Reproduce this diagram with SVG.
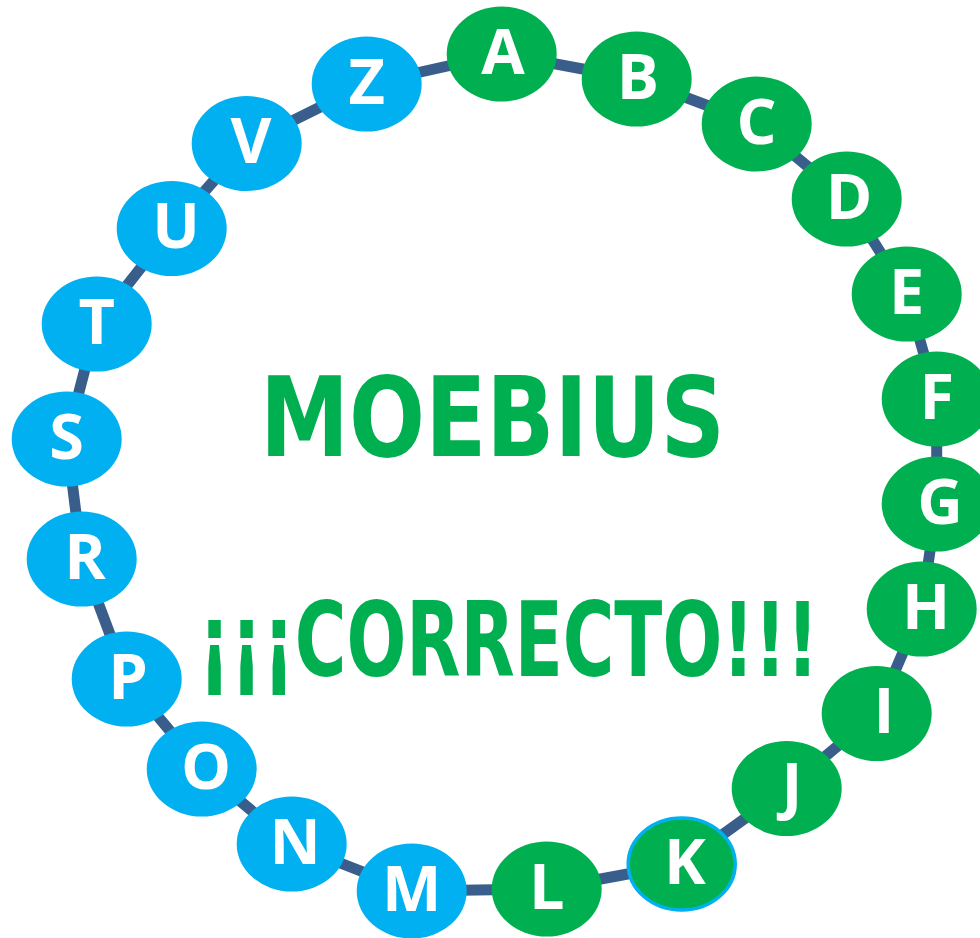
<svg xmlns="http://www.w3.org/2000/svg" width="980" height="938" viewBox="0 0 980 938">
<style>
.g{fill:#00B050}
.b{fill:#00B0F0}
.lt{font-family:"Open Sans","Noto Sans","Liberation Sans",sans-serif;font-weight:700;font-size:63px;fill:#fff;text-anchor:middle}
.title{font-family:"DejaVu Sans","Liberation Sans",sans-serif;font-weight:700;fill:#00B050;text-anchor:middle}
</style>
<rect width="980" height="938" fill="#fff"/>
<g id="connectors">
<path d="M501.7,54 L636.7,79 L756.7,124 L846.7,199 L906.7,294 L936.7,399 L936.7,504 L921.7,609 L876.7,713.5 L786.7,788.5 L681.7,864 L546.7,889 L411.7,891 L291.7,844 L201.7,769 L126.7,679 L81.7,559 L66.7,439 L96.7,324 L171.7,228.5 L246.7,143.5 L366.7,84 Z" fill="none" stroke="#3A5E8C" stroke-width="11" stroke-linejoin="round"/>
</g>
<g id="A"><ellipse class="g" cx="501.7" cy="54" rx="55" ry="47.5"/><text class="lt" x="503" y="73.5">A</text></g>
<g id="B"><ellipse class="g" cx="636.7" cy="79" rx="55" ry="47.5"/><text class="lt" x="638" y="98.5">B</text></g>
<g id="C"><ellipse class="g" cx="756.7" cy="124" rx="55" ry="47.5"/><text class="lt" x="756.7" y="143.5">C</text></g>
<g id="D"><ellipse class="g" cx="846.7" cy="199" rx="55" ry="47.5"/><text class="lt" x="849" y="218.5">D</text></g>
<g id="E"><ellipse class="g" cx="906.7" cy="294" rx="55" ry="47.5"/><text class="lt" x="906.7" y="313.5">E</text></g>
<g id="F"><ellipse class="g" cx="936.7" cy="399" rx="55" ry="47.5"/><text class="lt" x="936.7" y="418.5">F</text></g>
<g id="G"><ellipse class="g" cx="936.7" cy="504" rx="55" ry="47.5"/><text class="lt" x="940" y="523.5">G</text></g>
<g id="H"><ellipse class="g" cx="921.7" cy="609" rx="55" ry="47.5"/><text class="lt" x="926" y="628.5">H</text></g>
<g id="I"><ellipse class="g" cx="876.7" cy="713.5" rx="55" ry="47.5"/><text class="lt" x="884" y="733">I</text></g>
<g id="J"><ellipse class="g" cx="786.7" cy="788.5" rx="55" ry="47.5"/><text class="lt" x="792" y="808">J</text></g>
<g id="K"><ellipse class="g" cx="681.7" cy="864" rx="53.5" ry="46" stroke="#00B0F0" stroke-width="3.5"/><text class="lt" x="685" y="883.5">K</text></g>
<g id="L"><ellipse class="g" cx="546.7" cy="889" rx="55" ry="47.5"/><text class="lt" x="546.7" y="908.5">L</text></g>
<g id="M"><ellipse class="b" cx="411.7" cy="891" rx="55" ry="47.5"/><text class="lt" x="411.7" y="910.5">M</text></g>
<g id="N"><ellipse class="b" cx="291.7" cy="844" rx="55" ry="47.5"/><text class="lt" x="295" y="863.5">N</text></g>
<g id="O"><ellipse class="b" cx="201.7" cy="769" rx="55" ry="47.5"/><text class="lt" x="206" y="788.5">O</text></g>
<g id="P"><ellipse class="b" cx="126.7" cy="679" rx="55" ry="47.5"/><text class="lt" x="128" y="698.5">P</text></g>
<g id="R"><ellipse class="b" cx="81.7" cy="559" rx="55" ry="47.5"/><text class="lt" x="85" y="578.5">R</text></g>
<g id="S"><ellipse class="b" cx="66.7" cy="439" rx="55" ry="47.5"/><text class="lt" x="66.7" y="458.5">S</text></g>
<g id="T"><ellipse class="b" cx="96.7" cy="324" rx="55" ry="47.5"/><text class="lt" x="96.7" y="343.5">T</text></g>
<g id="U"><ellipse class="b" cx="171.7" cy="228.5" rx="55" ry="47.5"/><text class="lt" x="176" y="248">U</text></g>
<g id="V"><ellipse class="b" cx="246.7" cy="143.5" rx="55" ry="47.5"/><text class="lt" x="251" y="163">V</text></g>
<g id="Z"><ellipse class="b" cx="366.7" cy="84" rx="55" ry="47.5"/><text class="lt" x="366.7" y="103.5">Z</text></g>
<g id="titles">
<text class="title" transform="translate(492.5,456) scale(1,1.22)" x="0" y="0" font-size="90" textLength="465" lengthAdjust="spacingAndGlyphs">MOEBIUS</text>
<text class="title" transform="translate(508.5,676) scale(1,1.3)" x="0" y="0" font-size="80" textLength="620" lengthAdjust="spacingAndGlyphs">¡¡¡CORRECTO!!!</text>
</g>
</svg>
